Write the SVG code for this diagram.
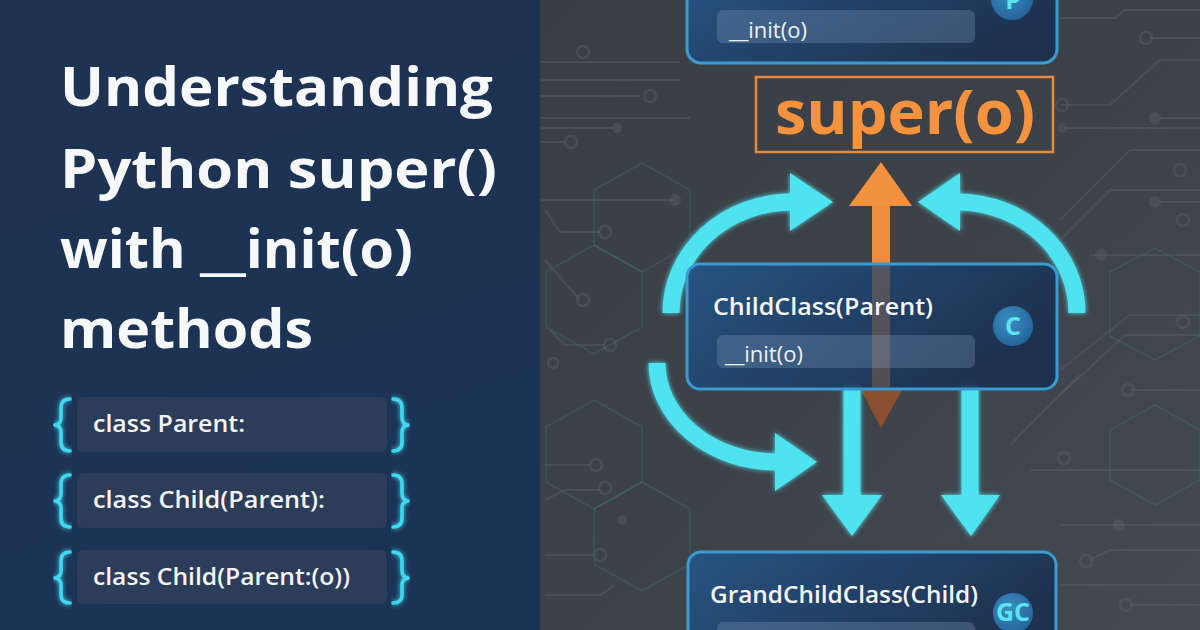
<svg xmlns="http://www.w3.org/2000/svg" width="1200" height="630" viewBox="0 0 1200 630">
  <defs>
    <linearGradient id="leftBg" x1="0" y1="0" x2="0.3" y2="1">
      <stop offset="0" stop-color="#1f3251"/>
      <stop offset="1" stop-color="#1b3456"/>
    </linearGradient>
    <linearGradient id="rightBg" x1="0" y1="0" x2="1" y2="1">
      <stop offset="0" stop-color="#3a3f46"/>
      <stop offset="0.5" stop-color="#3d4249"/>
      <stop offset="1" stop-color="#444a52"/>
    </linearGradient>
    <linearGradient id="nodeFill" x1="0" y1="0" x2="1" y2="0.4">
      <stop offset="0" stop-color="#255689"/>
      <stop offset="0.55" stop-color="#1e4068"/>
      <stop offset="1" stop-color="#1a3050"/>
    </linearGradient>
    <radialGradient id="badge" cx="0.4" cy="0.35" r="0.7">
      <stop offset="0" stop-color="#3a8cc0"/>
      <stop offset="1" stop-color="#24639a"/>
    </radialGradient>
    <filter id="soft" x="-10%" y="-10%" width="120%" height="120%">
      <feGaussianBlur stdDeviation="2.5" result="b"/>
      <feMerge><feMergeNode in="b"/><feMergeNode in="SourceGraphic"/></feMerge>
    </filter>
    <style>
      .title { font-family: "Open Sans", "Noto Sans", sans-serif; font-weight: 700; font-size: 54px; fill: #f7f8fa; }
      .code { font-family: "Open Sans", "Noto Sans", sans-serif; font-weight: 600; font-size: 24px; fill: #f2f4f7; }
      .codebox { fill: #2b3d59; }
      .brace { fill: none; stroke: #3fd7ef; stroke-width: 3.5; stroke-linecap: round; stroke-linejoin: round; }
      .node { fill: url(#nodeFill); stroke: #3a9bd2; stroke-width: 3; fill-opacity: 0.9; }
      .bar { fill: #8aa6c8; fill-opacity: 0.28; }
      .ntitle { font-family: "Open Sans", "Noto Sans", sans-serif; font-weight: 600; font-size: 23px; fill: #f4f6f9; }
      .ninit { font-family: "Open Sans", "Noto Sans", sans-serif; font-weight: 500; font-size: 22px; fill: #eef2f6; }
      .badgec { fill: url(#badge); }
      .badget { font-family: "Open Sans", "Noto Sans", sans-serif; font-weight: 700; font-size: 25px; fill: #5ce3f2; text-anchor: middle; }
      .cyan { fill: none; stroke: #4fe2ef; stroke-width: 17; }
      .cyanhead { fill: #4fe2ef; }
      .circuit { fill: none; stroke: #5b626c; stroke-width: 2; opacity: 0.4; }
      .cdot { fill: none; stroke: #5b626c; stroke-width: 2.5; opacity: 0.4; }
      .dot { fill: #5b626c; opacity: 0.4; }
      .hex { fill: none; stroke: #3f8a90; stroke-width: 1.5; opacity: 0.25; }
    </style>
  </defs>

  <!-- backgrounds -->
  <rect x="540" y="0" width="660" height="630" fill="url(#rightBg)"/>
  <rect x="0" y="0" width="540" height="630" fill="url(#leftBg)"/>

  <!-- decorative circuit traces -->
  <g id="circuits">
    <path class="circuit" d="M540,62 H680"/>
    <circle class="cdot" cx="583" cy="52" r="6"/>
    <path class="circuit" d="M540,80 H680"/>
    <path class="circuit" d="M540,96 H640"/>
    <circle class="cdot" cx="650" cy="96" r="6"/>
    <path class="circuit" d="M540,118 H690"/>
    <path class="circuit" d="M540,128 H615"/>
    <circle class="dot" cx="617" cy="128" r="5"/>
    <path class="circuit" d="M540,142 H565"/>
    <circle class="cdot" cx="571" cy="142" r="6"/>
    <path class="circuit" d="M540,200 H675"/>
    <circle class="dot" cx="675" cy="200" r="6"/>
    <path class="circuit" d="M545,210 L560,232 H600"/>
    <circle class="cdot" cx="605" cy="232" r="6"/>
    <path class="circuit" d="M545,260 L580,300"/>
    <circle class="cdot" cx="583" cy="300" r="6"/>
    <path class="circuit" d="M550,330 L565,345 H605"/>
    <circle class="cdot" cx="610" cy="345" r="6"/>
    <circle class="cdot" cx="553" cy="363" r="5"/>
    <path class="circuit" d="M545,465 H590"/>
    <circle class="cdot" cx="596" cy="465" r="6"/>
    <path class="circuit" d="M545,500 L565,490 H600"/>
    <circle class="cdot" cx="605" cy="488" r="6"/>
    <circle class="dot" cx="622" cy="520" r="5"/>
    <path class="circuit" d="M545,555 H595"/>
    <circle class="cdot" cx="600" cy="555" r="6"/>
    <path class="circuit" d="M545,595 H600 L615,585"/>
    <path class="circuit" d="M1060,18 H1115 L1125,10 H1200"/>
    <path class="circuit" d="M1150,38 H1200"/>
    <circle class="cdot" cx="1146" cy="38" r="6"/>
    <path class="circuit" d="M1060,105 H1110 L1160,60 H1200"/>
    <circle class="cdot" cx="1062" cy="105" r="6"/>
    <path class="circuit" d="M1065,128 H1200"/>
    <circle class="dot" cx="1062" cy="128" r="5"/>
    <path class="circuit" d="M1160,118 H1200"/>
    <circle class="dot" cx="1155" cy="118" r="6"/>
    <path class="circuit" d="M1060,220 L1130,150 H1200"/>
    <path class="circuit" d="M1060,240 L1110,190 H1200"/>
    <circle class="cdot" cx="1180" cy="170" r="6"/>
    <circle class="dot" cx="1155" cy="202" r="6"/>
    <path class="circuit" d="M1160,202 H1200"/>
    <circle class="cdot" cx="1183" cy="220" r="6"/>
    <path class="circuit" d="M1090,255 H1200"/>
    <circle class="dot" cx="1101" cy="255" r="6"/>
    <path class="circuit" d="M1060,370 L1130,315 H1200"/>
    <path class="circuit" d="M1060,395 L1125,335 H1200"/>
    <circle class="cdot" cx="1183" cy="322" r="6"/>
    <path class="circuit" d="M1130,390 H1200"/>
    <circle class="cdot" cx="1128" cy="390" r="6"/>
    <path class="circuit" d="M1010,445 L1080,375"/>
    <path class="circuit" d="M1030,470 H1200"/>
    <circle class="cdot" cx="1064" cy="458" r="6"/>
    <path class="circuit" d="M1060,525 H1200"/>
    <circle class="dot" cx="1119" cy="525" r="6"/>
    <path class="circuit" d="M1090,560 L1110,550 H1200"/>
    <circle class="cdot" cx="1086" cy="561" r="6"/>
    <path class="circuit" d="M1060,585 H1200"/>
    <path class="circuit" d="M1130,605 H1200"/>
    <circle class="cdot" cx="1126" cy="605" r="6"/>
  </g>

  <!-- decorative hexagons -->
  <g id="hexagons">
    <polygon class="hex" points="642,163 690,190 690,245 642,272 594,245 594,190"/>
    <polygon class="hex" points="594,245 642,272 642,327 594,354 546,327 546,272"/>
    <polygon class="hex" points="594,400 642,427 642,482 594,509 546,482 546,427"/>
    <polygon class="hex" points="642,482 690,509 690,564 642,591 594,564 594,509"/>
    <polygon class="hex" points="1155,248 1200,272 1200,336 1155,360 1110,336 1110,272"/>
    <polygon class="hex" points="1155,405 1200,430 1200,480 1155,505 1110,480 1110,430"/>
  </g>

  <!-- title -->
  <g id="title">
    <text class="title" x="60" y="106" textLength="433" lengthAdjust="spacingAndGlyphs">Understanding</text>
    <text class="title" x="60" y="188" textLength="437" lengthAdjust="spacingAndGlyphs">Python super()</text>
    <text class="title" x="60" y="268" textLength="353" lengthAdjust="spacingAndGlyphs">with __init(o)</text>
    <text class="title" x="60" y="348" textLength="253" lengthAdjust="spacingAndGlyphs">methods</text>
  </g>

  <!-- code lines -->
  <g id="code1">
    <rect class="codebox" x="77" y="397" width="310" height="55" rx="6"/>
    <path class="brace" filter="url(#soft)" d="M70,399 Q61,399 61,408 V418 Q61,424 55,425 Q61,426 61,432 V442 Q61,451 70,451"/>
    <path class="brace" filter="url(#soft)" d="M393,399 Q402,399 402,408 V418 Q402,424 408,425 Q402,426 402,432 V442 Q402,451 393,451"/>
    <text class="code" x="93" y="432" textLength="152" lengthAdjust="spacingAndGlyphs">class Parent:</text>
  </g>
  <g id="code2">
    <rect class="codebox" x="77" y="473" width="310" height="55" rx="6"/>
    <path class="brace" filter="url(#soft)" d="M70,475 Q61,475 61,484 V494 Q61,500 55,501 Q61,502 61,508 V518 Q61,527 70,527"/>
    <path class="brace" filter="url(#soft)" d="M393,475 Q402,475 402,484 V494 Q402,500 408,501 Q402,502 402,508 V518 Q402,527 393,527"/>
    <text class="code" x="93" y="508" textLength="232" lengthAdjust="spacingAndGlyphs">class Child(Parent):</text>
  </g>
  <g id="code3">
    <rect class="codebox" x="77" y="550" width="310" height="54" rx="6"/>
    <path class="brace" filter="url(#soft)" d="M70,552 Q61,552 61,561 V571 Q61,577 55,578 Q61,579 61,585 V595 Q61,603 70,603"/>
    <path class="brace" filter="url(#soft)" d="M393,552 Q402,552 402,561 V571 Q402,577 408,578 Q402,579 402,585 V595 Q402,603 393,603"/>
    <text class="code" x="93" y="585" textLength="257" lengthAdjust="spacingAndGlyphs">class Child(Parent:(o))</text>
  </g>

  <!-- parent node (top, cut off) -->
  <g id="parent">
    <rect class="node" x="687" y="-25" width="370" height="88" rx="14"/>
    <rect class="bar" x="717" y="10" width="258" height="33" rx="6"/>
    <text class="ninit" x="729" y="38">__init(o)</text>
    <circle class="badgec" cx="1012" cy="-1" r="21"/>
    <text class="badget" x="1013" y="9">P</text>
  </g>

  <!-- super() label -->
  <g id="super">
    <rect x="756" y="77" width="297" height="75" fill="none" stroke="#e8893a" stroke-width="2.5"/>
    <text x="775" y="134" textLength="260" lengthAdjust="spacingAndGlyphs" font-family="'Open Sans', 'Noto Sans', sans-serif" font-weight="700" font-size="60" fill="#f4923e">super(o)</text>
  </g>

  <!-- connectors -->
  <g id="connectors">
    <!-- orange super() arrow, passes behind child node -->
    <rect x="872" y="200" width="18" height="195" fill="#ec8c3c"/>
    <polygon points="849,206 881,162 912,206" fill="#f2913e"/>
    <polygon points="860,388 903,388 881,428" fill="#8a5030"/>
    <!-- cyan flow arrows -->
    <g filter="url(#soft)">
      <path class="cyan" d="M671,313 A121,111 0 0 1 792,202"/>
      <polygon class="cyanhead" points="790,173 833,202 790,231"/>
      <path class="cyan" d="M1077,313 A120,111 0 0 0 959,202"/>
      <polygon class="cyanhead" points="960,173 918,202 960,231"/>
      <path class="cyan" d="M657,363 A120,99 0 0 0 777,462"/>
      <polygon class="cyanhead" points="775,433 817,462 775,491"/>
      <path class="cyan" d="M852,385 V497"/>
      <polygon class="cyanhead" points="822,495 882,495 852,536"/>
      <path class="cyan" d="M970,385 V497"/>
      <polygon class="cyanhead" points="941,495 1000,495 971,536"/>
    </g>
  </g>

  <!-- child node -->
  <g id="child">
    <rect class="node" x="687" y="264" width="370" height="125" rx="13"/>
    <rect x="872" y="266" width="18" height="121" fill="#ec8c3c" opacity="0.18"/>
    <text class="ntitle" x="713" y="315" textLength="220" lengthAdjust="spacingAndGlyphs">ChildClass(Parent)</text>
    <rect class="bar" x="717" y="335" width="258" height="33" rx="6"/>
    <text class="ninit" x="725" y="362">__init(o)</text>
    <circle class="badgec" cx="1013" cy="326" r="20"/>
    <text class="badget" x="1013" y="335">C</text>
  </g>

  <!-- grandchild node (bottom, cut off) -->
  <g id="grandchild">
    <rect class="node" x="688" y="552" width="368" height="110" rx="13"/>
    <text class="ntitle" x="710" y="603" textLength="268" lengthAdjust="spacingAndGlyphs">GrandChildClass(Child)</text>
    <rect class="bar" x="717" y="622" width="258" height="33" rx="6"/>
    <circle class="badgec" cx="1013" cy="613" r="20"/>
    <text class="badget" x="1013" y="621" font-size="20">GC</text>
  </g>
</svg>
